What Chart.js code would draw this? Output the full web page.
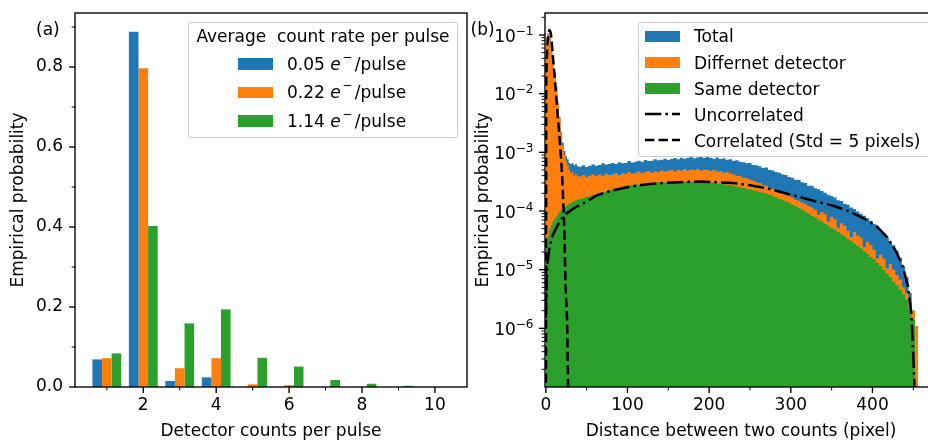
<!DOCTYPE html>
<html><head><meta charset="utf-8">
<script src="https://cdn.jsdelivr.net/npm/chart.js@4.4.1/dist/chart.umd.min.js"></script>
<style>
html,body{margin:0;padding:0;background:#fff;width:928px;height:441px;overflow:hidden;position:relative;font-family:'DejaVu Sans',sans-serif;color:#000}
canvas{position:absolute;top:0}
#ca{left:0}
#cb{left:470px}
.lg{position:absolute;border:1px solid #ccc;border-radius:3px;background:rgba(255,255,255,0.8);box-sizing:border-box}
.t{position:absolute;font-size:17px;line-height:20px;white-space:pre}
.p{position:absolute;width:35px;height:11.7px}
.sup{font-size:12px;position:relative;top:-9px;margin-left:1.5px;margin-right:2.5px}
</style></head><body>
<canvas id="ca" width="470" height="441"></canvas>
<canvas id="cb" width="480" height="441"></canvas>
<script>
// ---------- Panel (a) data ----------
const countsPerPulse = [1, 2, 3, 4, 5, 6, 7, 8, 9, 10];
const rateLabels = ['0.05', '0.22', '1.14'];
const probRate005 = [0.069, 0.888, 0.015, 0.024, 0, 0, 0, 0, 0, 0];
const probRate022 = [0.072, 0.797, 0.047, 0.072, 0.0067, 0.0045, 0, 0, 0, 0];
const probRate114 = [0.084, 0.4025, 0.159, 0.194, 0.073, 0.051, 0.0175, 0.008, 0.003, 0];
const xTicksA = [2, 4, 6, 8, 10];
const xMinorA = [1, 3, 5, 7, 9];
const yTicksA = [0, 0.2, 0.4, 0.6, 0.8];
const yMinorA = [0.1, 0.3, 0.5, 0.7, 0.9];

// ---------- Panel (b) data ----------
const histNames = ['Total', 'Differnet detector', 'Same detector'];
const lineNames = ['Uncorrelated', 'Correlated (Std = 5 pixels)'];
// bins 0-40 px, width 2
const totalNear = [0.0901, 0.1061, 0.0901, 0.0641, 0.0411, 0.0221, 0.0131, 7.1e-3, 4.0e-3, 2.2e-3,
  1.45e-3, 1.05e-3, 8.6e-4, 7.6e-4, 6.6e-4, 6.3e-4, 6.6e-4, 6.0e-4, 6.4e-4, 5.8e-4];
const diffNear = [0.088, 0.106, 0.088, 0.062, 0.041, 0.022, 0.013, 7.0e-3, 3.9e-3, 2.1e-3,
  1.3e-3, 9.0e-4, 7.0e-4, 6.0e-4, 5.0e-4, 4.4e-4, 4.6e-4, 4.0e-4, 4.3e-4, 3.9e-4];
const sameNear = [2.5e-5, 3.8e-5, 5.0e-5, 5.8e-5, 6.6e-5, 7.4e-5, 8.0e-5, 8.8e-5, 9.6e-5, 1.04e-4,
  1.1e-4, 1.16e-4, 1.22e-4, 1.28e-4, 1.34e-4, 1.38e-4, 1.44e-4, 1.47e-4, 1.52e-4, 1.56e-4];
// bins from 40 px, width 4
const totalFar = [5.7e-4, 6.0e-4, 5.6e-4, 5.9e-4, 6.2e-4, 5.9e-4, 6.1e-4, 6.5e-4, 6.2e-4, 6.3e-4,
  6.6e-4, 6.3e-4, 6.8e-4, 6.5e-4, 6.6e-4, 7.1e-4, 6.7e-4, 6.9e-4, 7.2e-4, 6.9e-4,
  7.4e-4, 7.1e-4, 7.2e-4, 7.6e-4, 7.3e-4, 7.5e-4, 7.8e-4, 7.4e-4, 7.7e-4, 8.0e-4,
  7.6e-4, 8.1e-4, 7.8e-4, 8.0e-4, 8.4e-4, 7.9e-4, 8.2e-4, 8.4e-4, 8.0e-4, 8.3e-4,
  8.1e-4, 7.8e-4, 8.2e-4, 7.7e-4, 7.9e-4, 7.5e-4, 7.6e-4, 7.2e-4, 7.3e-4, 6.9e-4,
  6.8e-4, 6.5e-4, 6.6e-4, 6.1e-4, 6.0e-4, 5.8e-4, 5.4e-4, 5.5e-4, 5.0e-4, 4.9e-4,
  4.6e-4, 4.5e-4, 4.2e-4, 4.1e-4, 3.8e-4, 3.7e-4, 3.4e-4, 3.4e-4, 3.1e-4, 3.0e-4,
  2.7e-4, 2.7e-4, 2.45e-4, 2.35e-4, 2.2e-4, 2.05e-4, 1.9e-4, 1.8e-4, 1.7e-4, 1.52e-4,
  1.48e-4, 1.32e-4, 1.28e-4, 1.15e-4, 1.08e-4, 9.8e-5, 9.0e-5, 8.3e-5, 7.5e-5, 6.8e-5,
  6.0e-5, 5.5e-5, 4.7e-5, 4.2e-5, 3.6e-5, 3.0e-5, 2.6e-5, 2.1e-5, 1.6e-5, 1.15e-5,
  7.5e-6, 4.0e-6, 2.0e-6, 1.0e-6];
const diffFar = [3.9e-4, 4.1e-4, 3.8e-4, 4.0e-4, 4.2e-4, 3.9e-4, 4.2e-4, 4.0e-4, 4.3e-4, 4.1e-4,
  4.2e-4, 4.4e-4, 4.1e-4, 4.4e-4, 4.3e-4, 4.6e-4, 4.3e-4, 4.5e-4, 4.7e-4, 4.4e-4,
  4.6e-4, 4.8e-4, 4.5e-4, 4.7e-4, 4.6e-4, 4.9e-4, 4.7e-4, 4.8e-4, 5.0e-4, 4.7e-4,
  5.0e-4, 4.9e-4, 5.2e-4, 4.9e-4, 5.1e-4, 5.0e-4, 5.2e-4, 4.9e-4, 5.1e-4, 5.0e-4,
  4.8e-4, 5.0e-4, 4.7e-4, 4.8e-4, 4.5e-4, 4.6e-4, 4.3e-4, 4.2e-4, 4.0e-4, 3.9e-4,
  3.7e-4, 3.6e-4, 3.4e-4, 3.3e-4, 3.1e-4, 3.0e-4, 2.8e-4, 2.7e-4, 2.5e-4, 2.4e-4,
  2.25e-4, 2.15e-4, 2.0e-4, 1.9e-4, 1.8e-4, 1.68e-4, 1.55e-4, 1.5e-4, 1.38e-4, 1.32e-4,
  1.2e-4, 1.15e-4, 1.05e-4, 8.6e-5, 9.6e-5, 8.8e-5, 6.6e-5, 8.0e-5, 7.2e-5, 5.2e-5,
  6.2e-5, 5.6e-5, 4.6e-5, 3.6e-5, 4.4e-5, 3.8e-5, 3.5e-5, 2.4e-5, 3.0e-5, 2.6e-5,
  2.2e-5, 1.55e-5, 1.8e-5, 1.55e-5, 1.05e-5, 1.25e-5, 1.0e-5, 8.0e-6, 6.8e-6, 5.0e-6,
  4.0e-6, 3.0e-6, 2.0e-6, 1.1e-6];
const sameFar = [1.6e-4, 1.67e-4, 1.74e-4, 1.8e-4, 1.88e-4, 1.95e-4, 2.0e-4, 2.1e-4, 2.15e-4, 2.28e-4,
  2.34e-4, 2.44e-4, 2.48e-4, 2.58e-4, 2.64e-4, 2.74e-4, 2.76e-4, 2.85e-4, 2.82e-4, 2.92e-4,
  2.95e-4, 3.0e-4, 2.98e-4, 3.05e-4, 3.08e-4, 3.1e-4, 3.06e-4, 3.14e-4, 3.12e-4, 3.18e-4,
  3.15e-4, 3.2e-4, 3.16e-4, 3.22e-4, 3.18e-4, 3.2e-4, 3.12e-4, 3.17e-4, 3.08e-4, 3.1e-4,
  3.02e-4, 3.05e-4, 2.95e-4, 2.92e-4, 2.86e-4, 2.8e-4, 2.76e-4, 2.68e-4, 2.62e-4, 2.55e-4,
  2.5e-4, 2.4e-4, 2.35e-4, 2.26e-4, 2.2e-4, 2.12e-4, 2.05e-4, 1.98e-4, 1.9e-4, 1.8e-4,
  1.72e-4, 1.62e-4, 1.55e-4, 1.45e-4, 1.38e-4, 1.28e-4, 1.2e-4, 1.13e-4, 1.05e-4, 9.8e-5,
  9.0e-5, 8.3e-5, 7.8e-5, 7.1e-5, 6.6e-5, 6.0e-5, 5.6e-5, 5.2e-5, 4.8e-5, 4.4e-5,
  4.0e-5, 3.7e-5, 3.3e-5, 3.1e-5, 2.8e-5, 2.55e-5, 2.3e-5, 2.05e-5, 1.85e-5, 1.65e-5,
  1.5e-5, 1.3e-5, 1.15e-5, 1.0e-5, 8.6e-6, 7.5e-6, 6.3e-6, 5.4e-6, 4.5e-6, 3.8e-6,
  3.1e-6, 2.2e-6, 1.4e-6];
const uncorrDist = [0, 0.5, 1.6, 4.5, 8.6, 14.7, 22.8, 35, 51, 62, 82, 103, 124, 144, 164, 188, 209, 229,
  250, 270, 290, 311, 331, 352, 372, 392, 405, 417, 429, 437, 443.5, 447.6, 449.6, 451.5];
const uncorrProb = [1.5e-6, 3.0e-6, 1.1e-5, 2.4e-5, 3.9e-5, 5.8e-5, 8.6e-5, 1.13e-4, 1.47e-4, 1.85e-4, 2.25e-4,
  2.6e-4, 2.85e-4, 3.0e-4, 3.1e-4, 3.18e-4, 3.1e-4, 3.0e-4, 2.75e-4, 2.45e-4, 2.07e-4, 1.73e-4, 1.45e-4,
  1.23e-4, 9.8e-5, 7.1e-5, 5.5e-5, 3.7e-5, 2.04e-5, 1.14e-5, 5.2e-6, 1.8e-6, 4.4e-7, 1e-7];
const corrDist = [0, 0.5, 1, 2, 3, 4, 4.5, 5, 6, 7, 8, 9, 10, 11, 12, 13, 14, 15, 16, 17, 18, 19, 20,
  21, 22, 23, 24, 25, 26, 27, 28];
const corrProb = [1e-9, 0.015, 0.035, 0.07, 0.098, 0.115, 0.12, 0.119, 0.108, 0.085, 0.055, 0.038, 0.026,
  0.018, 0.0125, 0.0082, 0.0054, 0.0036, 0.0025, 0.0016, 0.00105, 6.8e-4, 3.8e-4, 1.9e-4, 8.5e-5, 3.2e-5,
  6e-6, 2.8e-6, 1.5e-6, 2e-7, 1e-8];
const xTicksB = [0, 100, 200, 300, 400];
const xMinorB = [50, 150, 250, 350, 450];
const yTicksB = [1e-6, 1e-5, 1e-4, 1e-3, 1e-2, 1e-1];

const colors = ['#1f77b4', '#ff7f0e', '#2ca02c'];
const nearBinWidth = 2, nearEnd = 40, farBinWidth = 4;

Chart.defaults.font.family = "'DejaVu Sans'";
Chart.defaults.font.size = 17;
Chart.defaults.color = '#000';

function makeDecor(xMajor, xMinor, yMajor, yMinor, powLabels) {
  return {
    id: 'decor',
    afterDatasetsDraw(chart) {
      const {ctx, chartArea: a, scales: {x, y}} = chart;
      ctx.save();
      ctx.strokeStyle = '#000';
      const mark = (px, py, dx, dy, w) => {
        ctx.lineWidth = w; ctx.beginPath(); ctx.moveTo(px, py); ctx.lineTo(px + dx, py + dy); ctx.stroke();
      };
      xMajor.forEach(v => mark(x.getPixelForValue(v), a.bottom, 0, 5.95, 1.36));
      xMinor.forEach(v => mark(x.getPixelForValue(v), a.bottom, 0, 3.4, 1.0));
      yMajor.forEach(v => mark(a.left, y.getPixelForValue(v), -5.95, 0, 1.36));
      yMinor.forEach(v => mark(a.left, y.getPixelForValue(v), -3.4, 0, 1.0));
      ctx.lineWidth = 1.36;
      ctx.strokeRect(a.left, a.top, a.right - a.left, a.bottom - a.top);
      if (powLabels) {
        // "10" with a superscript exponent, as in the mathtext labels
        ctx.fillStyle = '#000';
        ctx.textBaseline = 'alphabetic';
        ctx.textAlign = 'left';
        y.ticks.forEach(t => {
          const py = y.getPixelForValue(t.value);
          const exp = '\u2212' + String(-Math.round(Math.log10(t.value)));
          ctx.font = "12px 'DejaVu Sans'";
          const w2 = ctx.measureText(exp).width;
          ctx.font = "17px 'DejaVu Sans'";
          const w1 = ctx.measureText('10').width;
          const right = a.left - 11.5;
          ctx.fillText('10', right - w2 - w1, py + 6.6);
          ctx.font = "12px 'DejaVu Sans'";
          ctx.fillText(exp, right - w2, py - 0.2);
        });
      }
      ctx.restore();
    }
  };
}

const baseScale = (min, max, ticks, fmt, isX, title, titlePad) => ({
  min, max, offset: false,
  grid: {display: false, drawTicks: false},
  border: {display: false},
  afterBuildTicks: s => { s.ticks = ticks.map(v => ({value: v})); },
  afterFit: s => {
    if (isX) s.height = 54; else s.width = 75;
    s.paddingTop = 0; s.paddingBottom = 0; s.paddingLeft = 0; s.paddingRight = 0;
  },
  ticks: {autoSkip: false, maxRotation: 0, minRotation: 0, padding: isX ? 8.5 : 12, callback: fmt,
    font: {size: 17}, color: '#000'},
  title: {display: true, text: title, font: {size: 17}, color: '#000', padding: titlePad}
});

// ---------- Chart (a) ----------
const seriesA = [probRate005, probRate022, probRate114];
new Chart(document.getElementById('ca'), {
  type: 'bar',
  data: {
    datasets: seriesA.map((vals, i) => ({
      label: rateLabels[i],
      data: countsPerPulse.map((c, j) => ({x: c, y: vals[j]})),
      backgroundColor: colors[i], borderWidth: 0,
      categoryPercentage: 0.79, barPercentage: 1
    }))
  },
  options: {
    responsive: false, animation: false, events: [],
    layout: {padding: {left: 0, right: 3, top: 13, bottom: 0}},
    plugins: {legend: {display: false}, tooltip: {enabled: false}},
    scales: {
      x: Object.assign({type: 'linear'}, baseScale(0.127, 10.88, xTicksA, v => String(v), true,
        'Detector counts per pulse', {top: 0, bottom: -1})),
      y: Object.assign({type: 'linear'}, baseScale(0, 0.935, yTicksA, v => v.toFixed(1), false,
        'Empirical probability', {top: 8, bottom: 0}))
    }
  },
  plugins: [makeDecor(xTicksA, xMinorA, yTicksA, yMinorA, false)]
});

// ---------- Chart (b) ----------
function histPoints(nearVals, farVals) {
  const pts = [];
  nearVals.forEach((v, i) => pts.push({x: i * nearBinWidth, y: v}));
  farVals.forEach((v, i) => pts.push({x: nearEnd + i * farBinWidth, y: v}));
  const last = pts[pts.length - 1];
  pts.push({x: last.x + farBinWidth, y: last.y});
  return pts;
}
const yMinorB = [];
for (let e = -7; e <= -1; e++) for (let k = 2; k <= 9; k++) { const v = k * Math.pow(10, e); if (v >= 1e-7 && v <= 0.237) yMinorB.push(v); }

const histSets = [[totalNear, totalFar], [diffNear, diffFar], [sameNear, sameFar]];
const dsB = histSets.map((s, i) => ({
  label: histNames[i], data: histPoints(s[0], s[1]), stepped: true, fill: 'start',
  backgroundColor: colors[i], borderColor: 'rgba(0,0,0,0)', borderWidth: 0, pointRadius: 0, order: 4 - i
}));
dsB.push({label: lineNames[0], data: uncorrDist.map((d, i) => ({x: d, y: uncorrProb[i]})),
  borderColor: '#000', borderWidth: 2.55, borderDash: [16.3, 4.1, 2.55, 4.1], pointRadius: 0, fill: false, tension: 0, order: 1});
dsB.push({label: lineNames[1], data: corrDist.map((d, i) => ({x: d, y: corrProb[i]})),
  borderColor: '#000', borderWidth: 2.55, borderDash: [9.4, 4.1], pointRadius: 0, fill: false, tension: 0, order: 0});

new Chart(document.getElementById('cb'), {
  type: 'line',
  data: {datasets: dsB},
  options: {
    responsive: false, animation: false, events: [],
    layout: {padding: {left: 0, right: 13, top: 13, bottom: 0}},
    plugins: {legend: {display: false}, tooltip: {enabled: false}},
    scales: {
      x: Object.assign({type: 'linear'}, baseScale(-1, 479, xTicksB, v => String(v), true,
        'Distance between two counts (pixel)', {top: 0, bottom: -1})),
      y: Object.assign({type: 'logarithmic'}, baseScale(1e-7, 0.237, yTicksB, () => '', false,
        'Empirical probability', {top: 3, bottom: 0}))
    }
  },
  plugins: [makeDecor(xTicksB, xMinorB, yTicksB, yMinorB, true)]
});

// ---------- Legends & panel labels ----------
function addDiv(cls, style, html) {
  const d = document.createElement('div'); d.className = cls; d.setAttribute('style', style);
  if (html !== undefined) d.innerHTML = html; document.body.appendChild(d); return d;
}
addDiv('t', 'left:36px;top:19.4px', '(a)');
addDiv('t', 'left:470.5px;top:19.4px', '(b)');

addDiv('lg', 'left:188px;top:21.5px;width:270px;height:116px');
addDiv('t', 'left:188px;width:270px;text-align:center;top:25.8px', 'Average  count rate per pulse');
rateLabels.forEach((r, i) => {
  addDiv('p', `left:238.3px;top:${58.3 + i * 28.3}px;background:${colors[i]}`);
  addDiv('t', `left:287px;top:${54.1 + i * 28.3}px`, `${r} <i>e</i><span class="sup">−</span>/pulse`);
});

addDiv('lg', 'left:638px;top:22px;width:295px;height:135px');
const legB = histNames.concat(lineNames);
legB.forEach((name, i) => {
  const base = 42.3 + i * 26.1;
  if (i < 3) addDiv('p', `left:645px;top:${base - 11.7}px;background:${colors[i]}`);
  else {
    const dash = i === 3 ? '16.3 4.1 2.55 4.1' : '9.4 4.1';
    addDiv('t', `left:645px;top:${base - 10.7}px;width:36px;height:8px`,
      `<svg width="36" height="8" style="display:block"><line x1="0" y1="4" x2="35" y2="4" stroke="#000" stroke-width="2.55" stroke-dasharray="${dash}"/></svg>`);
  }
  addDiv('t', `left:694px;top:${base - 15.9}px`, name);
});
</script>
</body></html>
